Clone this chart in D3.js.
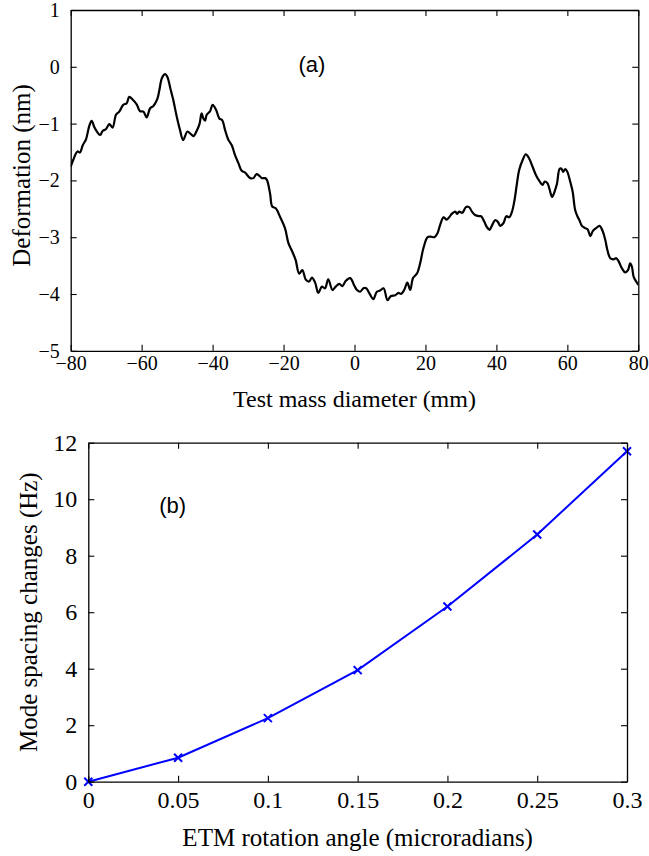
<!DOCTYPE html>
<html>
<head>
<meta charset="utf-8">
<script src="https://cdn.jsdelivr.net/npm/d3@7"></script>
<style>
  html, body { margin: 0; padding: 0; background: #fff; }
  svg { display: block; }
</style>
</head>
<body>
<svg id="fig" width="649" height="856"></svg>
<script>
// ---- Panel (a): surface deformation across the test mass ----
const posMM = [
  -80.0, -79.3, -78.1, -77.4, -76.6, -75.7, -74.8, -74.1, -73.2, -71.7, -71.0, -70.1, -69.1, -68.2,
  -67.2, -66.3, -65.2, -64.2, -63.5, -62.5, -61.4, -60.5, -59.5, -58.6, -57.6, -56.7, -55.6, -55.0,
  -54.3, -53.4, -52.8, -51.8, -51.1, -50.1, -49.2, -48.3, -47.1, -46.2, -45.4, -44.5, -43.7, -43.1,
  -42.6, -42.1, -41.7, -40.7, -40.0, -39.0, -38.1, -37.3, -36.5, -35.6, -34.6, -33.7, -32.7, -31.8,
  -30.9, -29.4, -28.5, -27.6, -26.8, -26.1, -25.2, -24.7, -23.8, -23.2, -22.2, -21.0, -19.6, -18.6,
  -17.5, -16.6, -15.6, -14.7, -13.7, -12.8, -12.0, -11.1, -10.2, -9.2, -8.3, -7.4, -6.2, -5.3,
  -4.3, -3.4, -2.5, -1.2, 0.0, 0.7, 1.6, 2.5, 3.3, 4.2, 5.3, 6.3, 7.2, 8.2,
  9.3, 10.2, 11.5, 12.4, 13.1, 14.0, 14.9, 15.7, 16.5, 17.6, 18.5, 19.4, 20.6, 21.5,
  22.5, 23.4, 24.1, 25.1, 26.0, 26.8, 27.4, 28.4, 28.9, 29.5, 30.4, 31.4, 32.3, 33.1,
  34.0, 35.0, 35.7, 36.6, 37.3, 38.1, 38.7, 39.7, 40.4, 41.1, 42.0, 42.8, 43.6, 44.4,
  45.1, 45.8, 46.4, 47.4, 48.3, 49.2, 50.2, 51.1, 52.1, 53.0, 53.6, 54.4, 55.0, 55.7,
  56.6, 57.1, 57.8, 58.3, 58.8, 59.4, 60.0, 60.8, 61.5, 62.2, 62.9, 63.4, 64.1, 65.0,
  65.7, 66.5, 67.2, 68.1, 69.1, 70.0, 70.7, 71.3, 72.1, 73.0, 73.8, 74.5, 75.4, 76.3,
  77.1, 77.7, 78.2, 78.7, 79.4, 80.0
];
const deformNM = [
  -1.76, -1.64, -1.49, -1.51, -1.38, -1.28, -1.05, -0.95, -1.08, -1.20, -1.13, -1.10, -1.01, -1.07,
  -0.84, -0.79, -0.67, -0.64, -0.53, -0.58, -0.66, -0.78, -0.79, -0.89, -0.73, -0.69, -0.57, -0.41,
  -0.20, -0.13, -0.17, -0.41, -0.58, -0.88, -1.11, -1.29, -1.14, -1.18, -1.22, -1.13, -1.01, -0.82,
  -0.91, -0.95, -0.85, -0.78, -0.67, -0.76, -0.91, -0.94, -1.11, -1.28, -1.38, -1.55, -1.70, -1.83,
  -1.86, -1.96, -1.96, -1.89, -1.92, -1.96, -1.96, -1.99, -2.23, -2.46, -2.49, -2.64, -2.84, -3.11,
  -3.26, -3.40, -3.64, -3.58, -3.75, -3.78, -3.71, -3.80, -3.98, -3.87, -3.90, -3.74, -3.93, -3.87,
  -3.82, -3.86, -3.77, -3.72, -3.86, -3.93, -3.96, -3.90, -3.90, -3.99, -4.09, -3.96, -3.94, -3.90,
  -4.11, -4.04, -4.02, -3.98, -4.00, -3.93, -3.80, -3.93, -3.72, -3.64, -3.46, -3.20, -3.00, -2.99,
  -3.00, -2.93, -2.79, -2.65, -2.69, -2.64, -2.59, -2.55, -2.59, -2.55, -2.57, -2.47, -2.47, -2.55,
  -2.61, -2.63, -2.63, -2.73, -2.82, -2.87, -2.80, -2.70, -2.73, -2.80, -2.75, -2.63, -2.65, -2.55,
  -2.35, -2.05, -1.82, -1.64, -1.54, -1.61, -1.76, -1.90, -2.01, -2.08, -2.02, -2.05, -2.16, -2.29,
  -2.16, -2.05, -1.80, -1.79, -1.85, -1.80, -1.85, -2.02, -2.20, -2.52, -2.64, -2.70, -2.80, -2.84,
  -2.86, -2.98, -2.89, -2.84, -2.80, -2.90, -3.05, -3.23, -3.37, -3.39, -3.37, -3.43, -3.55, -3.62,
  -3.58, -3.46, -3.52, -3.70, -3.78, -3.84
];
const xTicksA = [-80, -60, -40, -20, 0, 20, 40, 60, 80];
const yTicksA = [-5, -4, -3, -2, -1, 0, 1];

// ---- Panel (b): mode spacing change versus ETM rotation ----
const angleURad = [0, 0.05, 0.1, 0.15, 0.2, 0.25, 0.3];
const modeShiftHz = [0, 0.85, 2.25, 3.95, 6.2, 8.75, 11.7];
const xTicksB = [0, 0.05, 0.1, 0.15, 0.2, 0.25, 0.3];
const yTicksB = [0, 2, 4, 6, 8, 10, 12];

const SERIF = "'Liberation Serif', 'Times New Roman', serif";
const SANS = "'Liberation Sans', Arial, sans-serif";

const svg = d3.select("#fig");
svg.append("rect").attr("width", 649).attr("height", 856).attr("fill", "#fff");

// Boxed axes with inward ticks on all four sides, labels on bottom/left only.
function drawFrame(x, y, xt, yt, fmtX, fmtY, opt) {
  const [x0, x1] = x.range();
  const [y0, y1] = y.range();
  const g = svg.append("g");
  const style = sel => {
    sel.attr("font-family", SERIF).attr("font-size", opt.tickFont);
    sel.selectAll(".domain").attr("stroke", "#000").attr("stroke-width", 1.3);
    sel.selectAll(".tick line").attr("stroke", "#000").attr("stroke-width", 1.1);
    sel.selectAll(".tick text").attr("fill", "#000");
  };
  g.append("g").attr("transform", `translate(0,${y0})`)
    .call(d3.axisBottom(x).tickValues(xt).tickSize(-6).tickSizeOuter(0)
      .tickPadding(opt.padX).tickFormat(fmtX)).call(style);
  g.append("g").attr("transform", `translate(0,${y1})`)
    .call(d3.axisTop(x).tickValues(xt).tickSize(-6).tickSizeOuter(0).tickFormat(""))
    .call(style);
  g.append("g").attr("transform", `translate(${x0},0)`)
    .call(d3.axisLeft(y).tickValues(yt).tickSize(-6).tickSizeOuter(0)
      .tickPadding(opt.padY).tickFormat(fmtY)).call(style);
  g.append("g").attr("transform", `translate(${x1},0)`)
    .call(d3.axisRight(y).tickValues(yt).tickSize(-6).tickSizeOuter(0).tickFormat(""))
    .call(style);
  return g;
}

// ---------- Panel (a) ----------
const xA = d3.scaleLinear().domain([-80, 80]).range([70.7, 638.3]);
const yA = d3.scaleLinear().domain([-5, 1]).range([350.8, 10]);

svg.append("clipPath").attr("id", "clipA").append("rect")
  .attr("x", xA(-80)).attr("y", yA(1))
  .attr("width", xA(80) - xA(-80)).attr("height", yA(-5) - yA(1));

const profile = posMM.map((p, i) => [p, deformNM[i]]);
svg.append("path")
  .datum(profile)
  .attr("clip-path", "url(#clipA)")
  .attr("fill", "none")
  .attr("stroke", "#000")
  .attr("stroke-width", 2.2)
  .attr("stroke-linejoin", "round")
  .attr("d", d3.line().x(d => xA(d[0])).y(d => yA(d[1])).curve(d3.curveCatmullRom.alpha(0.5)));

drawFrame(xA, yA, xTicksA, yTicksA, d3.format("d"), d3.format("d"),
  { tickFont: 20, padX: 5, padY: 11 });

svg.append("text")
  .attr("x", (xA(-80) + xA(80)) / 2).attr("y", 407)
  .attr("text-anchor", "middle").attr("font-family", SERIF).attr("font-size", 24)
  .text("Test mass diameter (mm)");
svg.append("text")
  .attr("transform", `translate(30,${(yA(-5) + yA(1)) / 2 - 5}) rotate(-90)`)
  .attr("text-anchor", "middle").attr("font-family", SERIF).attr("font-size", 25)
  .text("Deformation (nm)");
svg.append("text")
  .attr("x", xA(-12)).attr("y", yA(-0.1))
  .attr("text-anchor", "middle").attr("font-family", SANS).attr("font-size", 22)
  .text("(a)");

// ---------- Panel (b) ----------
const xB = d3.scaleLinear().domain([0, 0.3]).range([88.3, 627]);
const yB = d3.scaleLinear().domain([0, 12]).range([781.7, 442.7]);

svg.append("path")
  .datum(angleURad.map((a, i) => [a, modeShiftHz[i]]))
  .attr("fill", "none")
  .attr("stroke", "#0000ff")
  .attr("stroke-width", 2)
  .attr("d", d3.line().x(d => xB(d[0])).y(d => yB(d[1])));

const marks = svg.append("g").attr("stroke", "#0000ff").attr("stroke-width", 2);
angleURad.forEach((a, i) => {
  const cx = xB(a), cy = yB(modeShiftHz[i]), r = 4;
  marks.append("line").attr("x1", cx - r).attr("y1", cy - r).attr("x2", cx + r).attr("y2", cy + r);
  marks.append("line").attr("x1", cx - r).attr("y1", cy + r).attr("x2", cx + r).attr("y2", cy - r);
});

drawFrame(xB, yB, xTicksB, yTicksB, d => String(d), d3.format("d"),
  { tickFont: 24, padX: 9, padY: 11 });

svg.append("text")
  .attr("x", (xB(0) + xB(0.3)) / 2).attr("y", 846)
  .attr("text-anchor", "middle").attr("font-family", SERIF).attr("font-size", 25)
  .text("ETM rotation angle (microradians)");
svg.append("text")
  .attr("transform", `translate(37,${(yB(0) + yB(12)) / 2}) rotate(-90)`)
  .attr("text-anchor", "middle").attr("font-family", SERIF).attr("font-size", 25)
  .text("Mode spacing changes (Hz)");
svg.append("text")
  .attr("x", xB(0.047)).attr("y", yB(9.5))
  .attr("text-anchor", "middle").attr("font-family", SANS).attr("font-size", 22)
  .text("(b)");
</script>
</body>
</html>
